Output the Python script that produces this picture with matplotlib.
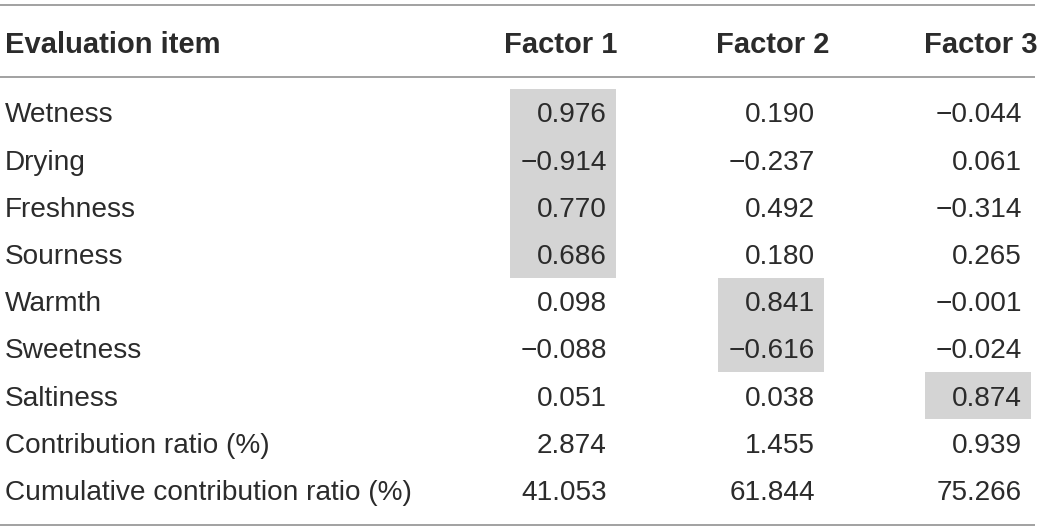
import matplotlib
matplotlib.use("Agg")
import matplotlib.pyplot as plt
from matplotlib.patches import Rectangle

header = ["Evaluation item", "Factor 1", "Factor 2", "Factor 3"]
items = ["Wetness", "Drying", "Freshness", "Sourness", "Warmth", "Sweetness",
         "Saltiness", "Contribution ratio (%)", "Cumulative contribution ratio (%)"]
factor1 = ["0.976", "\u22120.914", "0.770", "0.686", "0.098", "\u22120.088", "0.051", "2.874", "41.053"]
factor2 = ["0.190", "\u22120.237", "0.492", "0.180", "0.841", "\u22120.616", "0.038", "1.455", "61.844"]
factor3 = ["\u22120.044", "0.061", "\u22120.314", "0.265", "\u22120.001", "\u22120.024", "0.874", "0.939", "75.266"]
# highlighted cells: (column index 0..2, first row, last row)
highlights = [(0, 0, 3), (1, 4, 5), (2, 6, 6)]

W, H = 1042, 532
fig = plt.figure(figsize=(W / 100, H / 100), dpi=100)
ax = fig.add_axes([0, 0, 1, 1])
ax.set_xlim(0, W)
ax.set_ylim(H, 0)
ax.axis("off")

font = "Liberation Sans"
fs = 20.2
fs_head = 21
tc = "#2b2b2b"
col_val_right = [607, 815, 1022]
col_head_right = [617, 829, 1037]
row0 = 112.5
pitch = 47.2
head_y = 42
box_w = 106
box_pad = 9

cols = [factor1, factor2, factor3]

for c, r0, r1 in highlights:
    right = col_val_right[c] + box_pad
    top = row0 + pitch * r0 - pitch / 2
    ax.add_patch(Rectangle((right - box_w, top), box_w, pitch * (r1 - r0 + 1),
                           facecolor="#d4d4d4", edgecolor="none", zorder=0))

lc = "#9a9a9a"
for y in [5, 77, 525]:
    ax.plot([0, 1035], [y, y], color=lc, lw=1.3, solid_capstyle="butt")

ax.text(5, head_y, header[0], ha="left", va="center_baseline", fontsize=fs_head,
        fontweight="bold", family=font, color=tc)
for j in range(3):
    ax.text(col_head_right[j], head_y, header[j + 1], ha="right", va="center_baseline",
            fontsize=fs_head, fontweight="bold", family=font, color=tc)

for i, name in enumerate(items):
    y = row0 + pitch * i
    ax.text(5, y, name, ha="left", va="center_baseline", fontsize=fs, family=font, color=tc)
    for j in range(3):
        ax.text(col_val_right[j], y, cols[j][i], ha="right", va="center_baseline",
                fontsize=fs, family=font, color=tc)

fig.savefig("out.png", dpi=100)
